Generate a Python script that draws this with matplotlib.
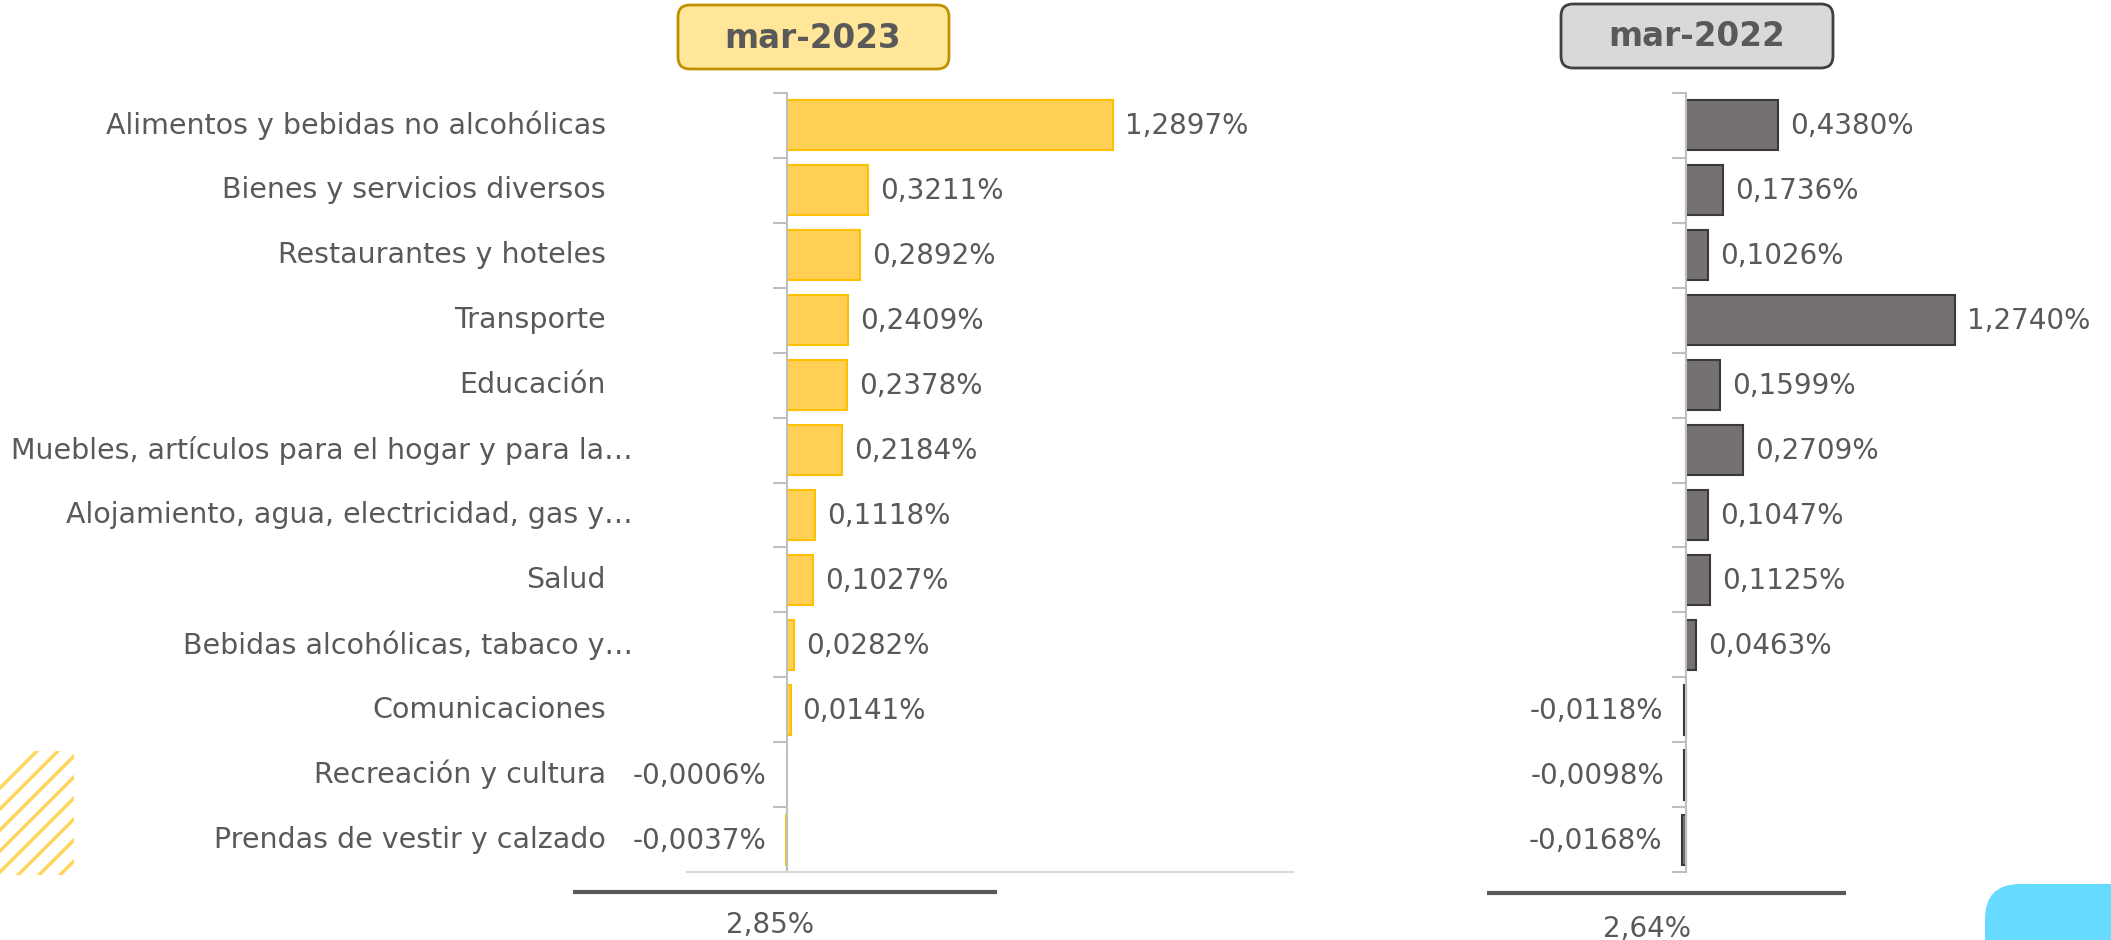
import matplotlib
matplotlib.use("Agg")
import matplotlib.pyplot as plt
from matplotlib.patches import FancyBboxPatch
from matplotlib.transforms import blended_transform_factory

# data
categories = [
    "Alimentos y bebidas no alcohólicas",
    "Bienes y servicios diversos",
    "Restaurantes y hoteles",
    "Transporte",
    "Educación",
    "Muebles, artículos para el hogar y para la…",
    "Alojamiento, agua, electricidad, gas y…",
    "Salud",
    "Bebidas alcohólicas, tabaco y…",
    "Comunicaciones",
    "Recreación y cultura",
    "Prendas de vestir y calzado",
]
values_2023 = [1.2897, 0.3211, 0.2892, 0.2409, 0.2378, 0.2184, 0.1118, 0.1027, 0.0282, 0.0141, -0.0006, -0.0037]
values_2022 = [0.4380, 0.1736, 0.1026, 1.2740, 0.1599, 0.2709, 0.1047, 0.1125, 0.0463, -0.0118, -0.0098, -0.0168]
title_2023 = "mar-2023"
title_2022 = "mar-2022"
total_2023 = "2,85%"
total_2022 = "2,64%"

W, H = 2111, 940
TXT = "#595959"

plt.rcParams['font.family'] = ['DejaVu Sans']

fig = plt.figure(figsize=(W / 100, H / 100), dpi=100)


def px_axes(x0, x1, y0, y1):
    # axes placed by pixel box (y measured from top)
    return fig.add_axes([x0 / W, (H - y1) / H, (x1 - x0) / W, (y1 - y0) / H])


def fmt(v):
    return f"{v:.4f}".replace(".", ",") + "%"


def draw_panel(ax, vals, fc, ec, zero_px, scale, x0, x1, show_bottom):
    n = len(vals)
    ax.set_xlim(-(zero_px - x0) / scale, (x1 - zero_px) / scale)
    ax.set_ylim(n - 0.5, -0.5)
    ax.barh(range(n), vals, height=0.77, color=fc, edgecolor=ec, linewidth=1.5, zorder=2)
    for sp in ['top', 'right']:
        ax.spines[sp].set_visible(False)
    ax.spines['left'].set_position(('data', 0))
    ax.spines['left'].set_color('#BFBFBF')
    ax.spines['left'].set_linewidth(1.5)
    ax.spines['bottom'].set_color('#D9D9D9')
    ax.spines['bottom'].set_linewidth(1.5)
    ax.spines['bottom'].set_visible(show_bottom)
    ax.set_xticks([])
    ax.set_yticks([i - 0.5 for i in range(n + 1)])
    ax.set_yticklabels([])
    ax.tick_params(axis='y', direction='out', length=10, width=1.5, color='#BFBFBF')
    ax.patch.set_alpha(0)
    for i, v in enumerate(vals):
        off = 12 if v >= 0 else -20
        ax.annotate(fmt(v), (v, i), xytext=(off, -1), textcoords='offset pixels',
                    ha='left' if v >= 0 else 'right', va='center',
                    fontsize=20, color=TXT, annotation_clip=False)


# left panel (mar-2023)
axL = px_axes(687, 1293, 93, 872)
draw_panel(axL, values_2023, '#FFD055', '#FFC000', 787, 252.8, 687, 1293, True)

# right panel (mar-2022)
axR = px_axes(1487, 2060, 93, 872)
draw_panel(axR, values_2022, '#767171', '#3B3838', 1686, 211, 1487, 2060, False)

# category labels
tr = blended_transform_factory(fig.transFigure, axL.transData)
for i, c in enumerate(categories):
    xr = 633 if c.endswith('…') else 606
    fig.text(xr / W, i, c, transform=tr, ha='right', va='center',
             fontsize=20.5, color=TXT)

# overlay for decorations, in pixel units
ov = fig.add_axes([0, 0, 1, 1])
ov.set_xlim(0, W)
ov.set_ylim(H, 0)
ov.set_aspect('equal')
ov.axis('off')
ov.patch.set_alpha(0)

# header boxes
ov.add_patch(FancyBboxPatch((678, 5), 271, 64, boxstyle="round,pad=0,rounding_size=12",
                            fc='#FFE699', ec='#BF9000', lw=2))
ov.text(813, 38, title_2023, ha='center', va='center', fontsize=23.5,
        fontweight='bold', color=TXT)
ov.add_patch(FancyBboxPatch((1561, 4), 272, 64, boxstyle="round,pad=0,rounding_size=12",
                            fc='#D9D9D9', ec='#404040', lw=2))
ov.text(1697, 37, title_2022, ha='center', va='center', fontsize=23.5,
        fontweight='bold', color=TXT)

# totals
ov.plot([573, 997], [892, 892], color=TXT, lw=3, solid_capstyle='butt')
ov.text(770, 925, total_2023, ha='center', va='center', fontsize=20, color=TXT)
ov.plot([1487, 1846], [893, 893], color=TXT, lw=3, solid_capstyle='butt')
ov.text(1647, 929, total_2022, ha='center', va='center', fontsize=20, color=TXT)

# yellow stripes bottom-left
clip = plt.Rectangle((0, 751), 74, 124, transform=ov.transData)
for k in range(10):
    c = 18 - 21 * k + 84
    ln, = ov.plot([c - 200, c + 200], [1075, 675], color='#FFD55A', lw=2.5)
    ln.set_clip_path(clip)

# blue tab bottom-right
ov.add_patch(FancyBboxPatch((1985, 884), 200, 120, boxstyle="round,pad=0,rounding_size=35",
                            fc='#66DBFF', ec='none'))

fig.savefig("out.png", dpi=100)
